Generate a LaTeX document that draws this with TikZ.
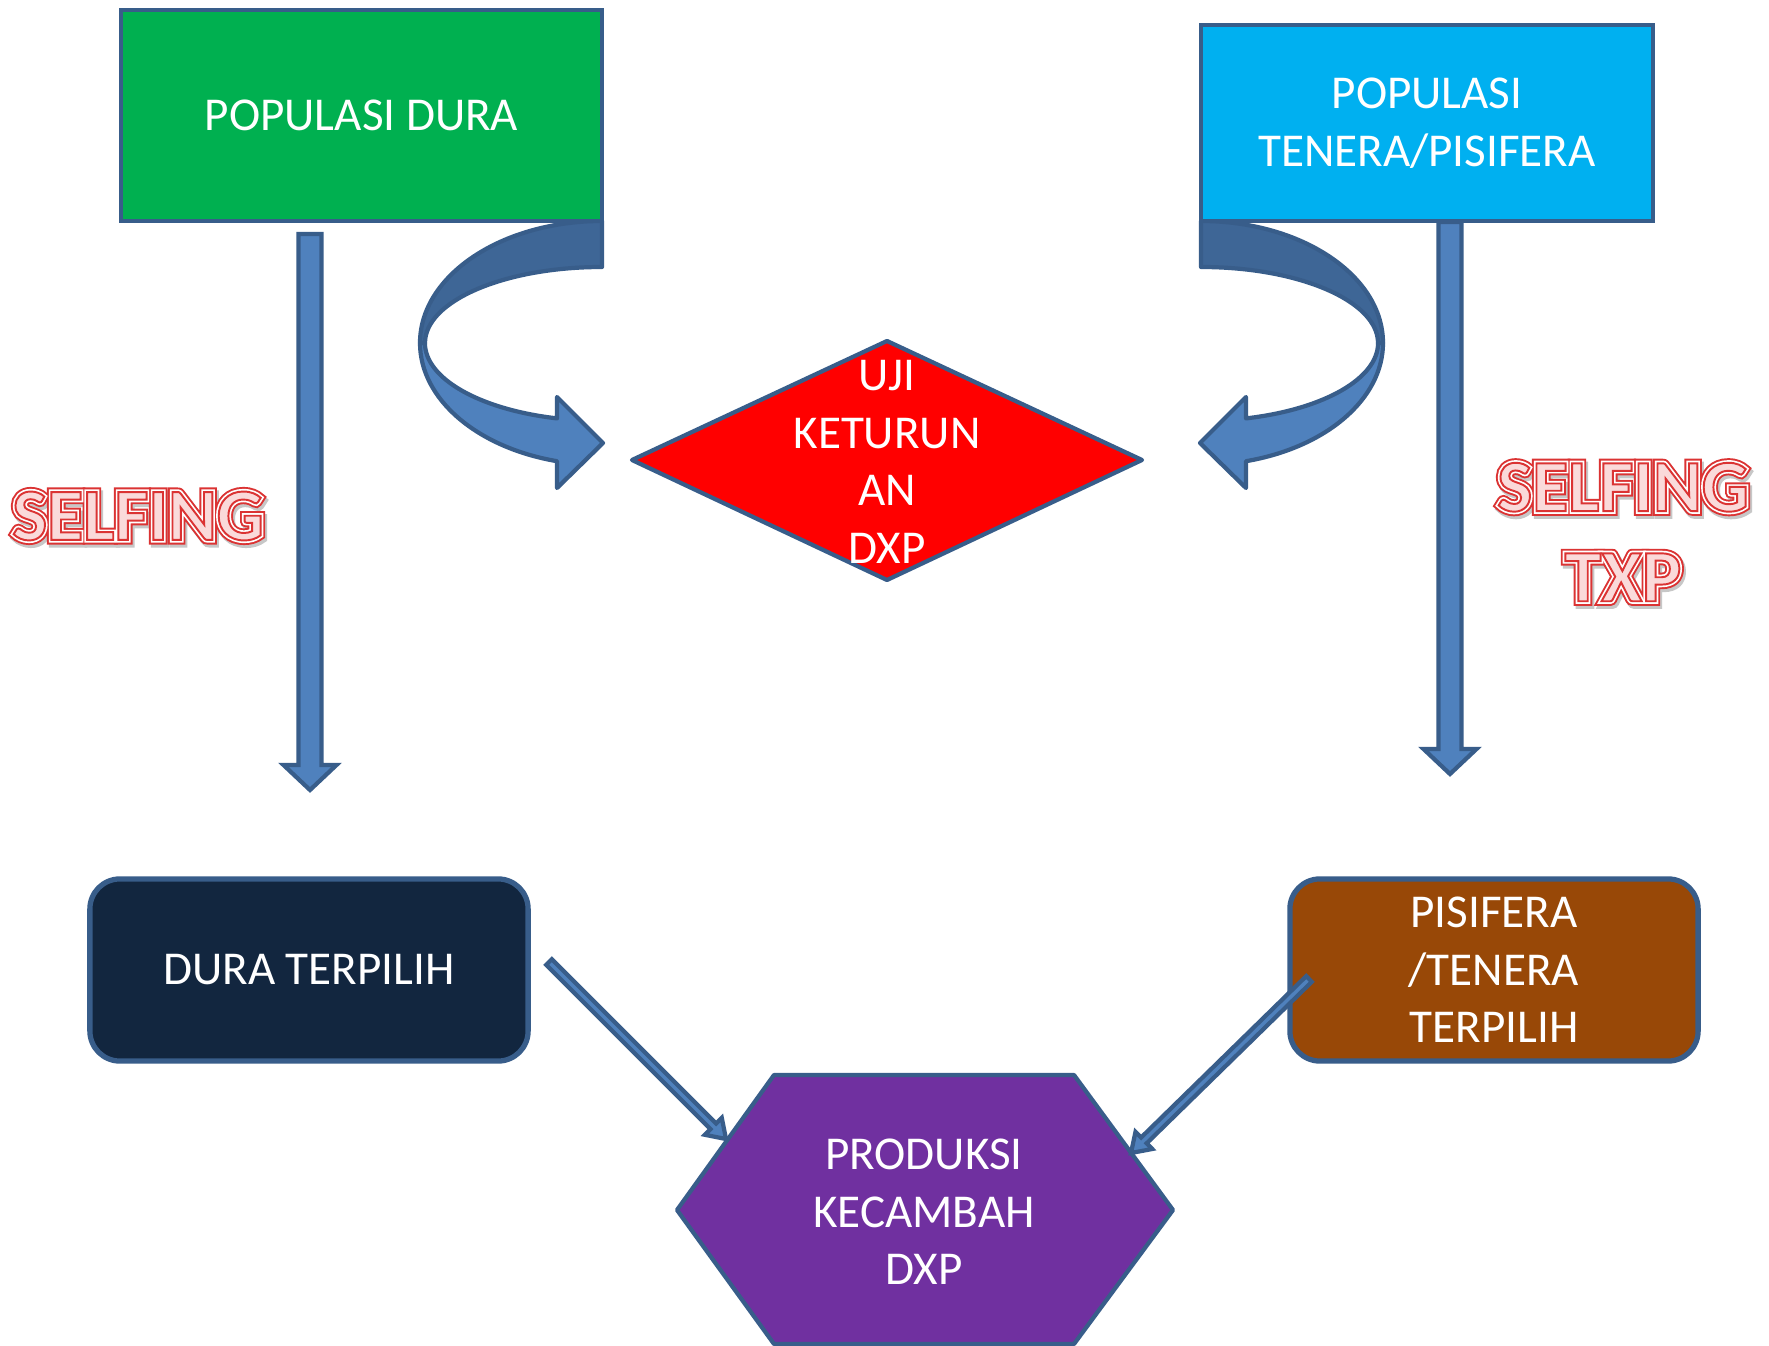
\documentclass[tikz,border=0pt]{standalone}
\usepackage{fontspec}
\setmainfont{Carlito}
\usepackage{xcolor}
\usepackage{tikz}
\usetikzlibrary{calc}
\definecolor{mygreen}{RGB}{0,176,80}
\definecolor{myblue}{RGB}{0,176,240}
\definecolor{myred}{RGB}{255,0,0}
\definecolor{mynavy}{RGB}{18,38,63}
\definecolor{mybrown}{RGB}{152,72,7}
\definecolor{mypurple}{RGB}{112,48,160}
\definecolor{myedge}{RGB}{56,93,138}
\definecolor{myarrow}{RGB}{79,129,189}
\definecolor{myband}{RGB}{62,102,150}
\definecolor{selred}{RGB}{220,50,50}
\definecolor{selpink}{RGB}{250,218,218}
\newcommand\boxfont{\fontsize{13.4}{16.4}\selectfont}
\newcommand\selfont{\fontsize{21}{25.6}\selectfont\bfseries}
\newcommand\stk[2]{\special{pdf:literal direct 2 Tr #1 w #2 RG}}
\newcommand\stkoff{\special{pdf:literal direct 0 Tr}}
\newcommand\blkarrow[5]{%
  \path ($(#2)!#5!(#1)$) coordinate (bk);
  \filldraw[blockarrow] ($(#1)!#3!90:(#2)$) -- ($(bk)!#3!-90:(#1)$) -- ($(bk)!#4!-90:(#1)$) -- (#2)
    -- ($(bk)!#4!90:(#1)$) -- ($(bk)!#3!90:(#1)$) -- ($(#1)!#3!-90:(#2)$) -- cycle;}
\newcommand\selflabel[3]{%
  \node[sellbl, text=black!22] at ($(#2)+(2,3)$) {\stk{2.6}{0.78 0.78 0.78}#3\stkoff};
  \node[sellbl, text=selred] at (#2) {\stk{2.6}{0.86 0.2 0.2}#3\stkoff};
  \node[sellbl, text=white] at (#2) {\stk{1.5}{1 1 1}#3\stkoff};
  \node[sellbl, text=selpink] (#1) at (#2) {\stk{0.55}{0.86 0.2 0.2}#3\stkoff};}
\tikzset{
  popbox/.style={rectangle, draw=myedge, line width=1.1pt, text=white,
    font=\boxfont, align=center, inner sep=0pt},
  selbox/.style={popbox, rounded corners=0.3cm, line width=1.5pt},
  shapeline/.style={draw=myedge, line width=1.2pt, line join=round},
  boxtext/.style={text=white, font=\boxfont, align=center, inner sep=0pt},
  blockarrow/.style={fill=myarrow, draw=myedge, line width=1.2pt, line join=miter},
  sellbl/.style={font=\selfont, align=center, inner sep=0pt},
  bendarrow/.pic={
    \filldraw[shapeline, fill=myband]
      (0,-122) arc[start angle=270, end angle=180, x radius=182, y radius=122]
      -- (-177,0) arc[start angle=180, end angle=270, x radius=177, y radius=76] -- cycle;
    \filldraw[shapeline, fill=myarrow]
      (-182,0) arc[start angle=180, end angle=104.3, x radius=182, y radius=122]
      -- (-45,145) -- (1,100) -- (-45,54) -- (-45,75.4)
      arc[start angle=104.7, end angle=180, x radius=177, y radius=78] -- cycle;
  }
}
\begin{document}
\begin{tikzpicture}[x=0.01cm, y=-0.01cm]
  \fill[white] (0,0) rectangle (1769,1346);
  \useasboundingbox (0,0) rectangle (1769,1346);

  \coordinate (selfL-a) at (310,234);
  \coordinate (selfL-b) at (310,790);
  \coordinate (selfR-a) at (1450,222);
  \coordinate (selfR-b) at (1450,774);
  \blkarrow{selfL-a}{selfL-b}{0.115cm}{0.265cm}{0.25cm}
  \blkarrow{selfR-a}{selfR-b}{0.115cm}{0.265cm}{0.25cm}
  \pic at (602,343) {bendarrow};
  \pic[xscale=-1] at (1201,343) {bendarrow};

  \node[popbox, fill=mygreen, minimum width=4.81cm, minimum height=2.11cm] (popdura) at (361.5,115.5) {POPULASI DURA};
  \node[popbox, fill=myblue, minimum width=4.52cm, minimum height=1.96cm] (poptenera) at (1427,123) {POPULASI\\TENERA/PISIFERA};
  \node[selbox, fill=mynavy, minimum width=4.38cm, minimum height=1.82cm] (duraterpilih) at (309,970) {DURA TERPILIH};
  \node[selbox, fill=mybrown, minimum width=4.08cm, minimum height=1.82cm] (pisterpilih) at (1494,970) {PISIFERA\\/TENERA\\TERPILIH};

  \filldraw[shapeline, fill=myred] (632,460) -- (887,341) -- (1142,460) -- (887,580) -- cycle;
  \node[boxtext] (ujiketurunan) at (887,462) {UJI\\KETURUN\\AN\\DXP};

  \filldraw[shapeline, fill=mypurple] (677,1210) -- (774,1075) -- (1074,1075) -- (1173,1210) -- (1074,1344) -- (774,1344) -- cycle;
  \node[boxtext] (kecambah) at (924,1212) {PRODUKSI\\KECAMBAH\\DXP};

  \coordinate (dl-a) at (549,962);
  \coordinate (dl-b) at (726,1139);
  \coordinate (dr-a) at (1309,979);
  \coordinate (dr-b) at (1131,1153);
  \blkarrow{dl-a}{dl-b}{0.04cm}{0.12cm}{0.18cm}
  \blkarrow{dr-a}{dr-b}{0.04cm}{0.12cm}{0.18cm}

  \selflabel{selfing}{138,516}{SELFING}
  \selflabel{selfingtxp}{1623,532}{SELFING\\TXP}
\end{tikzpicture}
\end{document}
